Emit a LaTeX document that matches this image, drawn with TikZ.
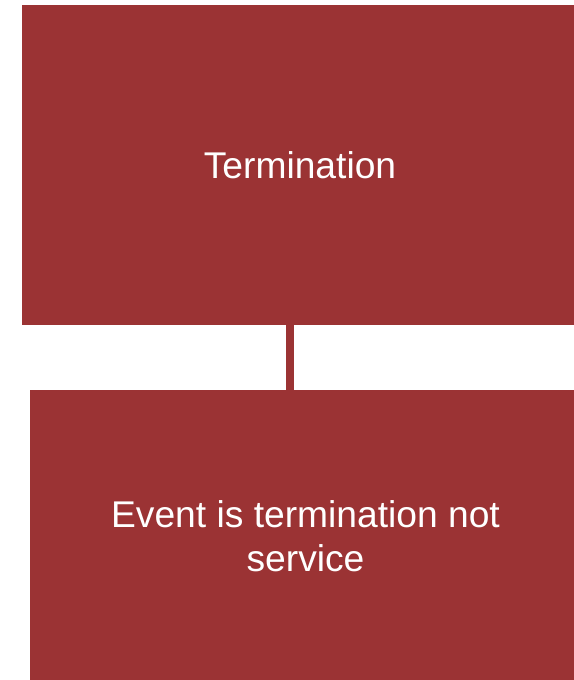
\documentclass[tikz,border=0pt]{standalone}
\usepackage{fontspec}
\setmainfont{Liberation Sans}
\definecolor{boxred}{RGB}{155,51,52}
\begin{document}
\begin{tikzpicture}[x=1pt,y=1pt,
  redbox/.style={fill=boxred, draw=none, inner sep=0pt, text=white, align=center,
    font=\fontsize{37.2}{44.5}\selectfont},
  link/.style={draw=boxred, line width=8pt}]
\useasboundingbox (0,0) rectangle (573,-680);
\node[redbox, minimum width=556, minimum height=320] (top) at (300,-165) {Termination};
\node[redbox, minimum width=551, minimum height=292] (bot) at (305.5,-536) {Event is termination not\\service};
\coordinate (lx) at (290,0);
\draw[link] (top.south -| lx) -- (bot.north -| lx);
\end{tikzpicture}
\end{document}
